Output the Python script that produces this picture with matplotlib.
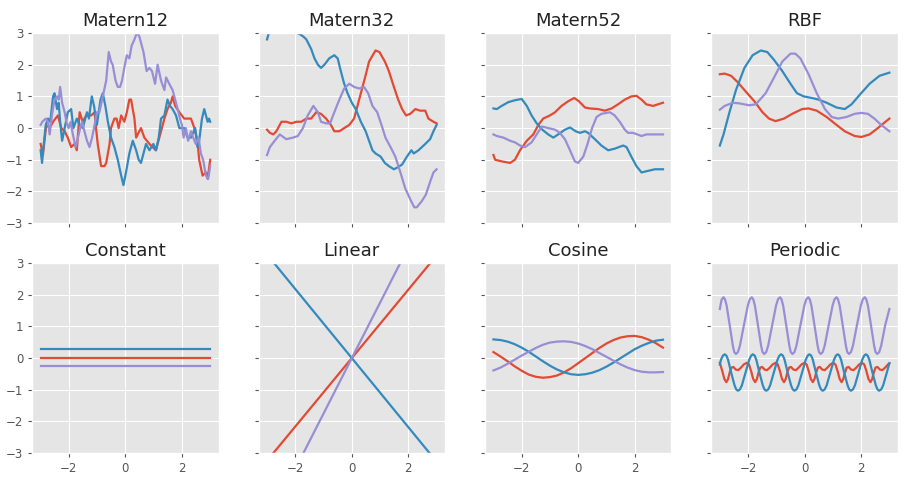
import matplotlib
matplotlib.use("Agg")
import matplotlib.pyplot as plt

plt.style.use("ggplot")

colors = ["#E24A33", "#348ABD", "#988ED5"]

titles = ["Matern12", "Matern32", "Matern52", "RBF",
          "Constant", "Linear", "Cosine", "Periodic"]

# ---------------- Matern12 samples ----------------
m12_red_x = [-3.0, -2.92, -2.8, -2.68, -2.56, -2.39, -2.27, -2.15, -2.04, -1.92, -1.8, -1.72,
             -1.62, -1.51, -1.39, -1.21, -1.09, -1.04, -0.98, -0.86, -0.74, -0.68, -0.56, -0.51,
             -0.39, -0.31, -0.24, -0.15, -0.04, 0.05, 0.14, 0.2, 0.26, 0.32, 0.38, 0.55, 0.67,
             0.85, 0.96, 1.08, 1.2, 1.38, 1.49, 1.61, 1.67, 1.76, 1.91, 2.08, 2.32, 2.44, 2.55,
             2.61, 2.73, 2.85, 2.91, 3.0]
m12_red_y = [-0.5, -0.85, 0.1, 0.0, 0.2, 0.4, 0.0, -0.1, -0.3, -0.6, -0.5, -0.7,
             0.5, 0.2, 0.4, 0.4, 0.5, 0.0, -0.5, -1.2, -1.2, -1.1, -0.5, 0.0,
             0.3, 0.3, 0.0, 0.4, 0.2, 0.5, 0.9, 0.9, 0.6, 0.3, -0.3, 0.0, -0.3,
             -0.5, -0.6, -0.7, -0.3, 0.3, 0.6, 0.8, 1.0, 0.7, 0.5, 0.3, 0.3, 0.0, -0.4,
             -1.0, -1.5, -1.4, -1.6, -1.0]
m12_blue_x = [-3.0, -2.95, -2.9, -2.82, -2.74, -2.66, -2.56, -2.51, -2.42, -2.36, -2.31, -2.24,
              -2.15, -2.04, -1.92, -1.84, -1.72, -1.62, -1.51, -1.36, -1.29, -1.19, -1.11, -1.01,
              -0.88, -0.8, -0.71, -0.62, -0.51, -0.39, -0.27, -0.15, -0.07, 0.02, 0.14, 0.26,
              0.38, 0.47, 0.55, 0.64, 0.73, 0.85, 0.99, 1.08, 1.18, 1.26, 1.38, 1.49, 1.58,
              1.67, 1.79, 1.91, 2.08, 2.2, 2.32, 2.47, 2.55, 2.61, 2.71, 2.79, 2.85, 2.91,
              2.96, 3.0]
m12_blue_y = [-0.7, -1.1, -0.6, 0.1, 0.3, 0.2, 1.0, 1.1, 0.6, 0.8, 0.2, -0.4,
              0.0, 0.5, 0.6, 0.0, 0.3, 0.1, 0.0, 0.5, 0.3, 1.0, 0.7, 0.1,
              0.9, 1.1, 0.7, 0.2, -0.3, -0.6, -1.0, -1.5, -1.8, -1.4, -0.8, -0.4,
              -0.7, -1.0, -1.1, -0.8, -0.5, -0.7, -0.5, -0.7, -0.3, 0.3, 0.4, 0.9, 0.7,
              0.6, 0.4, 0.0, 0.0, -0.3, -0.3, 0.0, -0.6, -0.4, 0.3, 0.6, 0.4, 0.2,
              0.3, 0.2]
m12_purple_x = [-3.0, -2.94, -2.82, -2.74, -2.68, -2.6, -2.51, -2.42, -2.36, -2.31, -2.24, -2.15,
                -2.09, -2.01, -1.94, -1.86, -1.76, -1.68, -1.6, -1.53, -1.45, -1.36, -1.27,
                -1.18, -1.09, -1.01, -0.92, -0.8, -0.68, -0.59, -0.51, -0.45, -0.35, -0.27,
                -0.19, -0.12, -0.04, 0.05, 0.14, 0.22, 0.32, 0.4, 0.49, 0.58, 0.64, 0.75, 0.85,
                0.94, 1.05, 1.14, 1.26, 1.38, 1.44, 1.55, 1.67, 1.79, 1.85, 1.93, 2.0, 2.06,
                2.14, 2.22, 2.32, 2.4, 2.49, 2.59, 2.67, 2.75, 2.85, 2.93, 3.0]
m12_purple_y = [0.1, 0.2, 0.3, 0.2, -0.2, 0.4, 0.9, 1.0, 0.9, 1.3, 0.8, 0.5,
                0.2, 0.0, 0.2, -0.2, -0.6, -0.3, 0.0, 0.2, -0.1, -0.4, -0.6,
                -0.3, 0.1, 0.5, 0.5, 1.0, 1.5, 2.4, 2.1, 2.0, 1.5, 1.3,
                1.3, 1.5, 1.9, 2.3, 2.2, 2.6, 2.8, 3.0, 2.9, 2.6, 2.4, 1.8, 1.9,
                1.8, 1.4, 2.0, 1.5, 1.2, 1.6, 1.4, 1.2, 0.8, 0.6, 0.3, 0.1, -0.3,
                0.0, -0.4, -0.1, -0.3, -0.5, -0.3, -0.8, -1.0, -1.5, -1.6, -1.2]

# ---------------- Matern32 samples ----------------
m32_red_x = [-3.0, -2.9, -2.78, -2.67, -2.49, -2.32, -2.14, -1.96, -1.79, -1.61, -1.44, -1.26,
             -1.09, -0.91, -0.74, -0.62, -0.44, -0.27, -0.09, 0.08, 0.2, 0.32, 0.47, 0.61,
             0.84, 0.98, 1.17, 1.31, 1.49, 1.64, 1.78, 1.92, 2.07, 2.25, 2.42, 2.6, 2.71,
             2.89, 3.0]
m32_red_y = [-0.05, -0.15, -0.2, -0.1, 0.2, 0.2, 0.15, 0.2, 0.2, 0.3, 0.3, 0.5,
             0.45, 0.3, 0.1, -0.1, -0.1, 0.0, 0.1, 0.3, 0.7, 1.1, 1.6, 2.1,
             2.45, 2.4, 2.1, 1.8, 1.3, 0.9, 0.6, 0.4, 0.45, 0.6, 0.55, 0.55, 0.3,
             0.2, 0.15]
m32_blue_x = [-3.0, -2.92, -2.7, -2.4, -2.1, -1.91, -1.73, -1.61, -1.44, -1.32, -1.2, -1.09,
              -0.97, -0.8, -0.62, -0.5, -0.39, -0.27, -0.15, 0.0, 0.14, 0.32, 0.49, 0.61,
              0.73, 0.84, 1.02, 1.17, 1.31, 1.49, 1.6, 1.78, 1.95, 2.11, 2.19, 2.36, 2.6,
              2.77, 2.89, 3.0]
m32_blue_y = [2.8, 3.05, 3.3, 3.5, 3.3, 3.0, 2.9, 2.8, 2.5, 2.2, 2.0, 1.9,
              2.0, 2.2, 2.3, 2.2, 1.8, 1.4, 1.1, 0.8, 0.6, 0.2, -0.1, -0.4,
              -0.7, -0.8, -0.9, -1.1, -1.2, -1.3, -1.25, -1.15, -0.9, -0.7, -0.8, -0.7, -0.5,
              -0.35, -0.1, 0.1]
m32_purple_x = [-3.0, -2.9, -2.73, -2.55, -2.32, -2.08, -1.91, -1.73, -1.56, -1.36, -1.2, -1.09,
                -0.91, -0.77, -0.62, -0.44, -0.27, -0.09, 0.08, 0.26, 0.43, 0.58, 0.73, 0.9,
                1.05, 1.19, 1.37, 1.54, 1.72, 1.89, 2.07, 2.21, 2.3, 2.48, 2.62, 2.77, 2.89,
                3.0]
m32_purple_y = [-0.85, -0.6, -0.4, -0.2, -0.35, -0.3, -0.25, 0.0, 0.4, 0.7, 0.5, 0.2,
                0.15, 0.15, 0.5, 0.9, 1.25, 1.4, 1.3, 1.25, 1.3, 1.1, 0.7, 0.5,
                0.1, -0.3, -0.6, -0.9, -1.4, -1.9, -2.25, -2.5, -2.5, -2.3, -2.1, -1.7, -1.4,
                -1.3]

# ---------------- Matern52 samples ----------------
m52_red_x = [-3.0, -2.94, -2.71, -2.41, -2.24, -2.06, -1.82, -1.59, -1.41, -1.24, -1.0, -0.82,
             -0.59, -0.35, -0.14, 0.02, 0.24, 0.41, 0.71, 0.94, 1.18, 1.41, 1.65, 1.88, 2.06,
             2.24, 2.41, 2.65, 2.82, 3.0]
m52_red_y = [-0.85, -1.0, -1.05, -1.1, -1.0, -0.7, -0.4, -0.2, 0.1, 0.3, 0.4, 0.5,
             0.7, 0.85, 0.95, 0.85, 0.65, 0.62, 0.6, 0.55, 0.62, 0.75, 0.9, 1.0, 1.02,
             0.9, 0.75, 0.7, 0.75, 0.8]
m52_blue_x = [-3.0, -2.88, -2.71, -2.47, -2.24, -2.0, -1.82, -1.65, -1.47, -1.27, -1.06, -0.88,
              -0.71, -0.47, -0.29, -0.09, 0.06, 0.24, 0.35, 0.59, 0.82, 1.06, 1.29, 1.59, 1.71,
              1.88, 2.06, 2.24, 2.47, 2.71, 3.0]
m52_blue_y = [0.62, 0.6, 0.7, 0.82, 0.88, 0.92, 0.7, 0.4, 0.15, -0.05, -0.2, -0.3,
              -0.2, -0.05, 0.02, -0.1, -0.15, -0.1, -0.15, -0.35, -0.55, -0.7, -0.65, -0.55, -0.6,
              -0.9, -1.2, -1.4, -1.35, -1.3, -1.3]
m52_purple_x = [-3.0, -2.88, -2.65, -2.41, -2.24, -2.06, -1.88, -1.65, -1.47, -1.29, -1.06, -0.82,
                -0.65, -0.47, -0.29, -0.12, 0.0, 0.18, 0.33, 0.49, 0.65, 0.82, 1.12, 1.29, 1.47,
                1.65, 1.76, 1.94, 2.09, 2.24, 2.41, 2.71, 3.0]
m52_purple_y = [-0.2, -0.25, -0.3, -0.4, -0.45, -0.55, -0.6, -0.45, -0.2, 0.05, 0.0, -0.05,
                -0.15, -0.35, -0.7, -1.05, -1.1, -0.9, -0.5, 0.0, 0.35, 0.45, 0.5, 0.4, 0.2,
                -0.05, -0.15, -0.15, -0.2, -0.25, -0.2, -0.2, -0.2]

# ---------------- RBF samples ----------------
rbf_red_x = [-3.0, -2.83, -2.6, -2.37, -2.08, -1.78, -1.49, -1.26, -1.03, -0.73, -0.44, -0.09,
             0.14, 0.43, 0.78, 1.13, 1.42, 1.77, 2.01, 2.3, 2.59, 3.0]
rbf_red_y = [1.7, 1.72, 1.65, 1.45, 1.15, 0.85, 0.5, 0.3, 0.22, 0.3, 0.45, 0.6,
             0.62, 0.55, 0.35, 0.1, -0.1, -0.25, -0.28, -0.2, 0.0, 0.3]
rbf_blue_x = [-3.0, -2.87, -2.66, -2.43, -2.13, -1.84, -1.55, -1.32, -1.08, -0.79, -0.5, -0.27,
              -0.03, 0.26, 0.49, 0.78, 1.13, 1.42, 1.66, 1.95, 2.3, 2.65, 3.0]
rbf_blue_y = [-0.55, -0.2, 0.5, 1.2, 1.9, 2.3, 2.45, 2.4, 2.15, 1.8, 1.4, 1.1,
              1.0, 0.95, 0.9, 0.8, 0.65, 0.6, 0.75, 1.05, 1.4, 1.65, 1.75]
rbf_purple_x = [-3.0, -2.83, -2.54, -2.31, -1.96, -1.73, -1.38, -1.08, -0.79, -0.5, -0.33, -0.15,
                0.14, 0.43, 0.72, 0.96, 1.19, 1.48, 1.77, 2.01, 2.24, 2.47, 2.71, 3.0]
rbf_purple_y = [0.58, 0.7, 0.8, 0.78, 0.72, 0.75, 1.1, 1.6, 2.1, 2.35, 2.35, 2.2,
                1.7, 1.1, 0.6, 0.35, 0.3, 0.35, 0.45, 0.48, 0.45, 0.3, 0.1, -0.1]

# ---------------- Constant / Linear samples ----------------
line_x = [-3.0, 3.0]
const_red = [0.0, 0.0]
const_blue = [0.3, 0.3]
const_purple = [-0.25, -0.25]
lin_red = [-3.24, 3.24]
lin_blue = [3.27, -3.27]
lin_purple = [-5.25, 5.25]

# ---------------- Cosine samples ----------------
cos_x = [-3.0, -2.75, -2.5, -2.25, -2.0, -1.75, -1.5, -1.25, -1.0, -0.75, -0.5, -0.25, 0.0,
         0.25, 0.5, 0.75, 1.0, 1.25, 1.5, 1.75, 2.0, 2.25, 2.5, 2.75, 3.0]
cos_red = [0.19, 0.05, -0.1, -0.26, -0.4, -0.52, -0.59, -0.62, -0.6, -0.55, -0.45, -0.32, -0.16,
           0.0, 0.16, 0.32, 0.46, 0.57, 0.65, 0.69, 0.7, 0.66, 0.58, 0.47, 0.33]
cos_blue = [0.59, 0.57, 0.52, 0.44, 0.33, 0.2, 0.05, -0.1, -0.24, -0.36, -0.45, -0.51, -0.53,
            -0.51, -0.46, -0.38, -0.27, -0.14, 0.0, 0.14, 0.28, 0.39, 0.48, 0.55, 0.58]
cos_purple = [-0.39, -0.3, -0.18, -0.05, 0.08, 0.2, 0.32, 0.42, 0.49, 0.52, 0.53, 0.51, 0.46,
              0.38, 0.28, 0.16, 0.04, -0.08, -0.2, -0.3, -0.38, -0.43, -0.45, -0.45, -0.44]

# ---------------- Periodic samples ----------------
per_red_x = [-3.0, -2.91, -2.84, -2.77, -2.71, -2.65, -2.59, -2.52, -2.44, -2.35, -2.25, -2.15,
             -2.05, -1.97, -1.89, -1.82, -1.75, -1.69, -1.63, -1.57, -1.5, -1.42, -1.33, -1.23,
             -1.13, -1.03, -0.95, -0.87, -0.8, -0.73, -0.67, -0.61, -0.55, -0.48, -0.4, -0.31,
             -0.21, -0.11, -0.01, 0.07, 0.15, 0.22, 0.29, 0.35, 0.41, 0.47, 0.54, 0.62, 0.71,
             0.81, 0.91, 1.01, 1.09, 1.17, 1.24, 1.31, 1.37, 1.43, 1.49, 1.56, 1.64, 1.73,
             1.83, 1.93, 2.03, 2.11, 2.19, 2.26, 2.33, 2.39, 2.45, 2.51, 2.58, 2.66, 2.75,
             2.85, 2.95, 3.0]
per_red_y = [-0.15, -0.42, -0.66, -0.76, -0.66, -0.45, -0.3, -0.28, -0.36, -0.38, -0.3, -0.2,
             -0.15, -0.2, -0.42, -0.66, -0.76, -0.66, -0.45, -0.3, -0.28, -0.36, -0.38, -0.3,
             -0.2, -0.15, -0.2, -0.42, -0.66, -0.76, -0.66, -0.45, -0.3, -0.28, -0.36, -0.38,
             -0.3, -0.2, -0.15, -0.2, -0.42, -0.66, -0.76, -0.66, -0.45, -0.3, -0.28, -0.36,
             -0.38, -0.3, -0.2, -0.15, -0.2, -0.42, -0.66, -0.76, -0.66, -0.45, -0.3, -0.28,
             -0.36, -0.38, -0.3, -0.2, -0.15, -0.2, -0.42, -0.66, -0.76, -0.66, -0.45, -0.3,
             -0.28, -0.36, -0.38, -0.3, -0.2, -0.17]
per_blue_x = [-3.0, -2.96, -2.89, -2.83, -2.77, -2.71, -2.6, -2.48, -2.42, -2.36, -2.29, -2.22,
              -2.09, -1.96, -1.89, -1.83, -1.77, -1.71, -1.6, -1.48, -1.42, -1.36, -1.29, -1.22,
              -1.09, -0.96, -0.89, -0.83, -0.77, -0.71, -0.6, -0.48, -0.42, -0.36, -0.29, -0.22,
              -0.09, 0.04, 0.11, 0.17, 0.23, 0.29, 0.4, 0.52, 0.58, 0.64, 0.71, 0.78, 0.91, 1.04,
              1.11, 1.17, 1.23, 1.29, 1.4, 1.52, 1.58, 1.64, 1.71, 1.78, 1.91, 2.04, 2.11, 2.17,
              2.23, 2.29, 2.4, 2.52, 2.58, 2.64, 2.71, 2.78, 2.91, 3.0]
per_blue_y = [-0.2, -0.05, 0.08, 0.12, 0.08, -0.05, -0.455, -0.86, -0.99, -1.03, -0.99, -0.86,
              -0.455, -0.05, 0.08, 0.12, 0.08, -0.05, -0.455, -0.86, -0.99, -1.03, -0.99, -0.86,
              -0.455, -0.05, 0.08, 0.12, 0.08, -0.05, -0.455, -0.86, -0.99, -1.03, -0.99, -0.86,
              -0.455, -0.05, 0.08, 0.12, 0.08, -0.05, -0.455, -0.86, -0.99, -1.03, -0.99, -0.86,
              -0.455, -0.05, 0.08, 0.12, 0.08, -0.05, -0.455, -0.86, -0.99, -1.03, -0.99, -0.86,
              -0.455, -0.05, 0.08, 0.12, 0.08, -0.05, -0.455, -0.86, -0.99, -1.03, -0.99, -0.86,
              -0.455, -0.16]
per_purple_x = [-3.0, -2.94, -2.87, -2.82, -2.76, -2.65, -2.54, -2.49, -2.43, -2.36, -2.29, -2.15,
                -2.01, -1.94, -1.87, -1.82, -1.76, -1.65, -1.54, -1.49, -1.43, -1.36, -1.29,
                -1.15, -1.01, -0.94, -0.87, -0.82, -0.76, -0.65, -0.54, -0.49, -0.43, -0.36,
                -0.29, -0.15, -0.01, 0.06, 0.13, 0.18, 0.24, 0.35, 0.46, 0.51, 0.57, 0.64, 0.71,
                0.85, 0.99, 1.06, 1.13, 1.18, 1.24, 1.35, 1.46, 1.51, 1.57, 1.64, 1.71, 1.85,
                1.99, 2.06, 2.13, 2.18, 2.24, 2.35, 2.46, 2.51, 2.57, 2.64, 2.71, 2.85, 3.0]
per_purple_y = [1.55, 1.84, 1.92, 1.86, 1.66, 1.03, 0.39, 0.19, 0.13, 0.19, 0.39, 1.03,
                1.66, 1.86, 1.92, 1.86, 1.66, 1.03, 0.39, 0.19, 0.13, 0.19, 0.39,
                1.03, 1.66, 1.86, 1.92, 1.86, 1.66, 1.03, 0.39, 0.19, 0.13, 0.19,
                0.39, 1.03, 1.66, 1.86, 1.92, 1.86, 1.66, 1.03, 0.39, 0.19, 0.13, 0.19, 0.39,
                1.03, 1.66, 1.86, 1.92, 1.86, 1.66, 1.03, 0.39, 0.19, 0.13, 0.19, 0.39, 1.03,
                1.66, 1.86, 1.92, 1.86, 1.66, 1.03, 0.39, 0.19, 0.13, 0.19, 0.39, 1.03, 1.55]

panels = [
    [(m12_red_x, m12_red_y), (m12_blue_x, m12_blue_y), (m12_purple_x, m12_purple_y)],
    [(m32_red_x, m32_red_y), (m32_blue_x, m32_blue_y), (m32_purple_x, m32_purple_y)],
    [(m52_red_x, m52_red_y), (m52_blue_x, m52_blue_y), (m52_purple_x, m52_purple_y)],
    [(rbf_red_x, rbf_red_y), (rbf_blue_x, rbf_blue_y), (rbf_purple_x, rbf_purple_y)],
    [(line_x, const_red), (line_x, const_blue), (line_x, const_purple)],
    [(line_x, lin_red), (line_x, lin_blue), (line_x, lin_purple)],
    [(cos_x, cos_red), (cos_x, cos_blue), (cos_x, cos_purple)],
    [(per_red_x, per_red_y), (per_blue_x, per_blue_y), (per_purple_x, per_purple_y)],
]

fig, axes = plt.subplots(2, 4, figsize=(9.19, 4.79), dpi=100, sharex=True, sharey=True)
fig.patch.set_facecolor("white")
fig.subplots_adjust(left=0.035, right=0.977, top=0.931, bottom=0.054,
                    wspace=0.214, hspace=0.21)

for ax, title, curves in zip(axes.flat, titles, panels):
    for (xs, ys), c in zip(curves, colors):
        ax.plot(xs, ys, color=c, lw=1.6)
    ax.set_title(title, fontsize=13, color="#222222", pad=5)
    ax.set_ylim(-3, 3)
    ax.set_yticks([-3, -2, -1, 0, 1, 2, 3])
    ax.set_xticks([-2, 0, 2])
    ax.tick_params(labelsize=8.5, colors="#555555", length=3)

fig.savefig("out.png", dpi=100, facecolor="white")
